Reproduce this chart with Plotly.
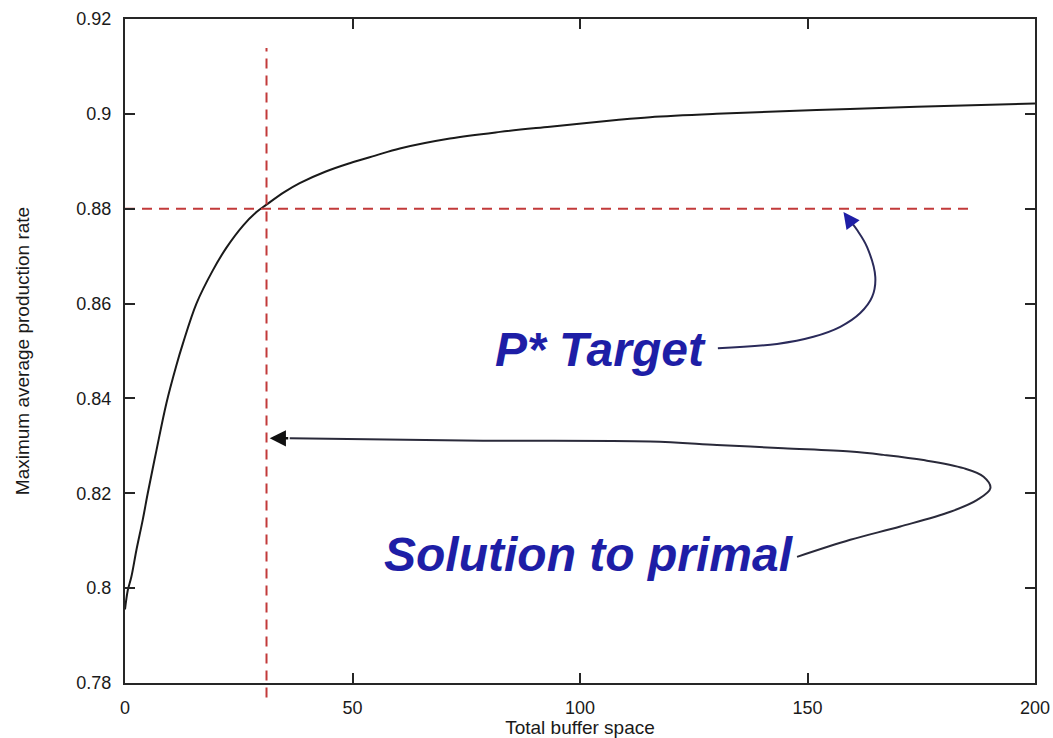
import plotly.graph_objects as go

# Main curve: total buffer space vs maximum average production rate
buffer_space = [0, 0.6, 1.4, 2.5, 3.9, 5.0, 6.9, 9.1, 11.3, 12.7, 15.7, 19.3, 22.3,
                26, 28.9, 31, 35, 38.4, 44, 49.4, 55, 60.4, 71.4, 82.4, 93.4, 108,
                115.4, 130, 152, 174, 200]
production_rate = [0.7955, 0.7995, 0.8024, 0.8080, 0.8144, 0.8200, 0.8290, 0.8390,
                   0.8470, 0.8515, 0.8600, 0.8670, 0.8718, 0.8765, 0.8793, 0.8808,
                   0.8835, 0.8854, 0.8878, 0.8896, 0.8912, 0.8927, 0.8948, 0.8962,
                   0.8973, 0.8987, 0.8993, 0.9000, 0.9008, 0.9015, 0.9022]

# Reference levels
P_TARGET = 0.88
BUFFER_SOLUTION = 31.1
TARGET_LINE_END = 186.5
VLINE_TOP = 0.9139

# Annotation arrow paths (data units)
target_arrow_x = [130.3, 143.3, 151.3, 157.2, 161.6, 164.2, 164.9, 163.1, 160.9, 158.9]
target_arrow_y = [0.8506, 0.8515, 0.8530, 0.8551, 0.8580, 0.8614, 0.8656, 0.8719, 0.8755, 0.8780]
target_tip = (157.9, 0.8793)

primal_arrow_x = [147.7, 159.4, 170.4, 181.4, 187.3, 190.2, 188.7, 184.3, 175.5, 166.7,
                  159.4, 144.7, 130.1, 115.4, 78.7, 36.2]
primal_arrow_y = [0.8066, 0.8102, 0.8130, 0.8161, 0.8186, 0.8211, 0.8235, 0.8253, 0.8270,
                  0.8281, 0.8288, 0.8295, 0.8302, 0.8309, 0.8311, 0.8316]
primal_tip = (31.8, 0.8316)

x_ticks = [0, 50, 100, 150, 200]
x_tick_text = ["0", "50", "100", "150", "200"]
y_ticks = [0.78, 0.80, 0.82, 0.84, 0.86, 0.88, 0.90, 0.92]
y_tick_text = ["0.78", "0.8", "0.82", "0.84", "0.86", "0.88", "0.9", "0.92"]

X_RANGE = [0, 200]
Y_RANGE = [0.78, 0.92]

BLUE = "#1e1ea6"
RED = "#c23a3a"
AXIS = "#262626"
TEXT = "#1a1a1a"

fig = go.Figure()

fig.add_trace(go.Scatter(x=buffer_space, y=production_rate, mode="lines",
                         line=dict(color="#1a1a1a", width=2, shape="spline", smoothing=1.0),
                         showlegend=False, hoverinfo="skip"))

# Horizontal target line
fig.add_trace(go.Scatter(x=[0, TARGET_LINE_END], y=[P_TARGET, P_TARGET], mode="lines",
                         line=dict(color=RED, width=2, dash="10px,7px"),
                         showlegend=False, hoverinfo="skip"))

# Vertical solution line (extends slightly below the axis)
vtop_paper = (VLINE_TOP - Y_RANGE[0]) / (Y_RANGE[1] - Y_RANGE[0])
fig.add_shape(type="line", xref="x", yref="paper", x0=BUFFER_SOLUTION, x1=BUFFER_SOLUTION,
              y0=-0.022, y1=vtop_paper, line=dict(color=RED, width=2, dash="10px,7px"),
              layer="above")

# Curved annotation arrows
fig.add_trace(go.Scatter(x=target_arrow_x, y=target_arrow_y, mode="lines",
                         line=dict(color="#2a2a5a", width=2, shape="spline"),
                         showlegend=False, hoverinfo="skip"))
fig.add_trace(go.Scatter(x=primal_arrow_x, y=primal_arrow_y, mode="lines",
                         line=dict(color="#2a2a3a", width=2, shape="spline"),
                         showlegend=False, hoverinfo="skip"))

fig.add_annotation(x=target_tip[0], y=target_tip[1], ax=target_arrow_x[-1], ay=target_arrow_y[-1],
                   xref="x", yref="y", axref="x", ayref="y", text="", showarrow=True,
                   arrowhead=2, arrowsize=1.3, arrowwidth=2.5, arrowcolor=BLUE)
fig.add_annotation(x=primal_tip[0], y=primal_tip[1], ax=primal_arrow_x[-1], ay=primal_arrow_y[-1],
                   xref="x", yref="y", axref="x", ayref="y", text="", showarrow=True,
                   arrowhead=2, arrowsize=1.3, arrowwidth=2.5, arrowcolor="#111111")

label_font = dict(family="Liberation Sans", size=48, color=BLUE, weight="bold", style="italic")
fig.add_annotation(x=104.4, y=0.8503, xref="x", yref="y", text="P* Target",
                   showarrow=False, font=label_font)
fig.add_annotation(x=102.0, y=0.8070, xref="x", yref="y", text="Solution to primal",
                   showarrow=False, font=label_font)

axis_common = dict(showgrid=False, zeroline=False, showline=True, linecolor=AXIS, linewidth=2,
                   mirror="ticks", ticks="inside", ticklen=10, tickwidth=2, tickcolor=AXIS,
                   automargin=False,
                   tickfont=dict(family="Liberation Sans", size=18, color=TEXT))

fig.update_xaxes(range=X_RANGE, tickvals=x_ticks, ticktext=x_tick_text, ticklabelstandoff=7,
                 title=dict(text="Total buffer space", standoff=1,
                            font=dict(family="Liberation Sans", size=19, color=TEXT)),
                 **axis_common)
fig.update_yaxes(range=Y_RANGE, tickvals=y_ticks, ticktext=y_tick_text, ticklabelstandoff=8,
                 title=dict(text="Maximum average production rate", standoff=42,
                            font=dict(family="Liberation Sans", size=19, color=TEXT)),
                 **axis_common)

fig.update_layout(width=1053, height=738, margin=dict(l=125, r=18, t=19, b=55),
                  paper_bgcolor="white", plot_bgcolor="white")

fig.write_html("out.html")
